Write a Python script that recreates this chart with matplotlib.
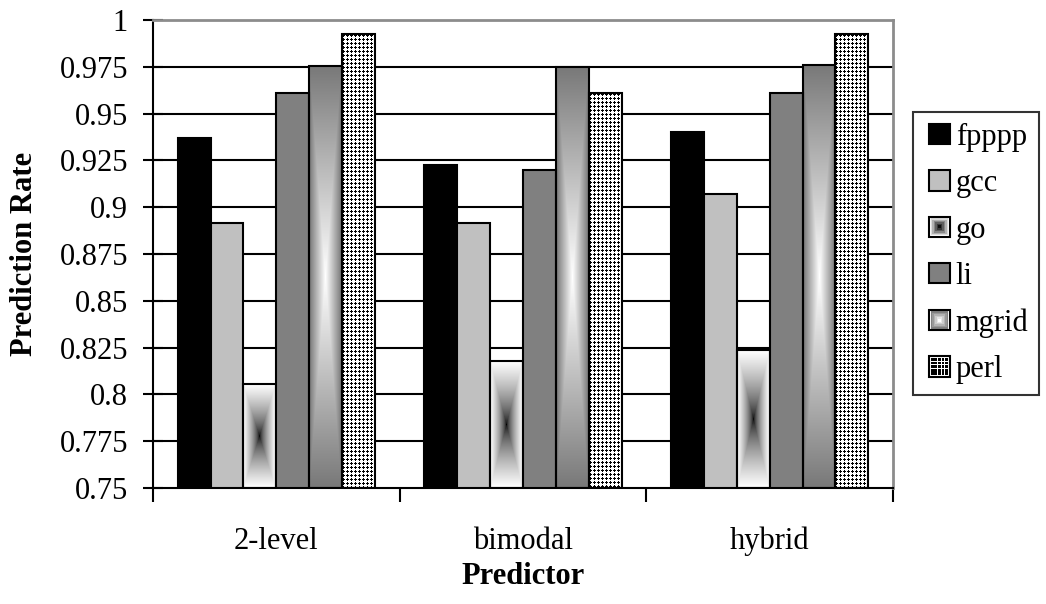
import numpy as np
import matplotlib
matplotlib.use("Agg")
import matplotlib.pyplot as plt
from matplotlib.patches import Rectangle
from matplotlib.legend_handler import HandlerBase

plt.rcParams['font.family'] = ['Liberation Serif', 'DejaVu Serif']

predictors = ['2-level', 'bimodal', 'hybrid']
series = ['fpppp', 'gcc', 'go', 'li', 'mgrid', 'perl']
fpppp = [0.937, 0.9225, 0.940]
gcc = [0.8915, 0.8915, 0.907]
go = [0.8055, 0.8178, 0.8237]
li = [0.961, 0.920, 0.961]
mgrid = [0.9755, 0.975, 0.976]
perl = [0.9925, 0.961, 0.9925]
values = [fpppp, gcc, go, li, mgrid, perl]

yticks = [0.75, 0.775, 0.8, 0.825, 0.85, 0.875, 0.9, 0.925, 0.95, 0.975, 1.0]
ytick_labels = ['0.75', '0.775', '0.8', '0.825', '0.85', '0.875', '0.9',
                '0.925', '0.95', '0.975', '1']

YMIN, YMAX = 0.75, 1.0
W, H = 1046, 604
FS = 22
fig = plt.figure(figsize=(W / 100, H / 100), dpi=100)
ax = fig.add_axes([153 / W, (H - 488) / H, 740 / W, 468 / H])
ax.set_xlim(0, 3)
ax.set_ylim(YMIN, YMAX)

# horizontal gridlines
for y in yticks[1:-1]:
    ax.axhline(y, color='black', lw=1.5, zorder=1)


def grad_go(nx, ny):
    u = np.abs(np.linspace(-1, 1, nx))[None, :]
    w = np.abs(np.linspace(-1, 1, ny))[:, None]
    t = np.maximum(u, w)
    g = np.clip(t, 0, 1) ** 0.6
    return np.dstack([g, g, g])


def grad_mgrid(nx, ny):
    u = np.abs(np.linspace(-1, 1, nx))[None, :]
    w = np.abs(np.linspace(-1, 1, ny))[:, None]
    t = np.maximum(u, w)
    g = 1.0 - t * (1.0 - 0.47)
    return np.dstack([g, g, g])


def dots(nx, ny):
    yy, xx = np.mgrid[0:ny, 0:nx]
    a, b = yy % 4, xx % 4
    blk = ((a == 1) & (b <= 2)) | ((b == 1) & (a <= 2))
    g = np.where(blk, 0.0, 1.0)
    return np.dstack([g, g, g])


colors = {'fpppp': 'black', 'gcc': '#c0c0c0', 'li': '#808080'}
bw = 1 / 7.5
px_x = 740 / 3
px_y = 468 / (YMAX - YMIN)
x = np.arange(3) + 0.5
for i, (name, vals) in enumerate(zip(series, values)):
    pos = x + (i - 2.5) * bw
    fc = colors.get(name, 'none')
    bars = ax.bar(pos, np.array(vals) - YMIN, width=bw, bottom=YMIN,
                  facecolor=fc, edgecolor='black', lw=1.5, zorder=3)
    if name in ('go', 'mgrid', 'perl'):
        for b in bars:
            x0, x1 = b.get_x(), b.get_x() + b.get_width()
            y0, y1 = b.get_y(), b.get_y() + b.get_height()
            nx = max(int(round((x1 - x0) * px_x)), 2)
            ny = max(int(round((y1 - y0) * px_y)), 2)
            if name == 'go':
                img = grad_go(nx, ny)
            elif name == 'mgrid':
                img = grad_mgrid(nx, ny)
            else:
                img = dots(nx, ny)
            im = ax.imshow(img, extent=(x0, x1, y0, y1), aspect='auto',
                           interpolation='nearest' if name == 'perl' else 'bilinear',
                           zorder=2.5)
            im.set_clip_path(b)

ax.set_xlim(0, 3)
ax.set_ylim(YMIN, YMAX)

# axes styling
ax.spines['left'].set_color('black')
ax.spines['bottom'].set_color('black')
ax.spines['left'].set_linewidth(1.5)
ax.spines['bottom'].set_linewidth(1.5)
for s in ('top', 'right'):
    ax.spines[s].set_color('#8c8c8c')
    ax.spines[s].set_linewidth(2)

ax.set_yticks(yticks)
ax.set_yticklabels(ytick_labels)
ax.tick_params(axis='y', direction='inout', length=14, width=1.5,
               labelsize=FS, pad=11)
ax.set_xticks([0, 1, 2, 3])
ax.set_xticklabels([])
ax.tick_params(axis='x', which='major', direction='out', length=10, width=1.5)
ax.set_xticks(x, minor=True)
ax.set_xticklabels(predictors, minor=True)
ax.tick_params(axis='x', which='minor', length=0, labelsize=FS, pad=28)

ax.set_ylabel('Prediction Rate', fontsize=FS, fontweight='bold', va='center')
ax.yaxis.set_label_coords((25 - 153) / 740, 0.5)
ax.set_xlabel('Predictor', fontsize=FS, fontweight='bold', va='center')
ax.xaxis.set_label_coords(0.5, (488 - 577) / 468)


class SwatchHandler(HandlerBase):
    def __init__(self, kind):
        super().__init__()
        self.kind = kind

    def create_artists(self, legend, orig_handle, xdescent, ydescent,
                       width, height, fontsize, trans):
        # square swatch at the right end of the handle box
        x0, y0 = -xdescent + width - height, -ydescent
        width = height
        base = colors.get(self.kind, 'white')
        arts = [Rectangle((x0, y0), width, height, facecolor=base,
                          edgecolor='none', transform=trans)]
        if self.kind in ('go', 'mgrid'):
            n = 6
            for k in range(n):
                s = (1 - k / n) * 0.85
                t = k / (n - 1)
                if self.kind == 'go':
                    g = 0.85 - 0.8 * t
                else:
                    g = 0.5 + 0.5 * t
                w, h = width * s, height * s
                arts.append(Rectangle((x0 + (width - w) / 2, y0 + (height - h) / 2),
                                      w, h, facecolor=(g, g, g), edgecolor='none',
                                      transform=trans))
        elif self.kind == 'perl':
            m = 5
            for a in range(m):
                for c in range(m):
                    cx = x0 + width * (0.15 + 0.7 * a / (m - 1))
                    cy = y0 + height * (0.15 + 0.7 * c / (m - 1))
                    arts.append(Rectangle((cx - width * 0.07, cy - height * 0.07),
                                          width * 0.14, height * 0.14,
                                          facecolor='black', edgecolor='none',
                                          transform=trans))
        arts.append(Rectangle((x0, y0), width, height, facecolor='none',
                              edgecolor='black', lw=1.5, transform=trans))
        return arts


handles = []
hmap = {}
for name in series:
    r = Rectangle((0, 0), 1, 1, facecolor=colors.get(name, 'white'),
                  edgecolor='black', lw=1.5)
    handles.append(r)
    hmap[r] = SwatchHandler(name)

leg = fig.legend(handles, series, handler_map=hmap, loc='upper left',
                 bbox_to_anchor=(913 / W, 1 - 112 / H), borderaxespad=0,
                 fontsize=FS, frameon=True, fancybox=False,
                 handlelength=0.85, handleheight=0.65, handletextpad=0.2,
                 labelspacing=0.57, borderpad=0.35)
leg.get_frame().set_edgecolor('black')
leg.get_frame().set_linewidth(1.5)

fig.savefig('out.png', dpi=100)
